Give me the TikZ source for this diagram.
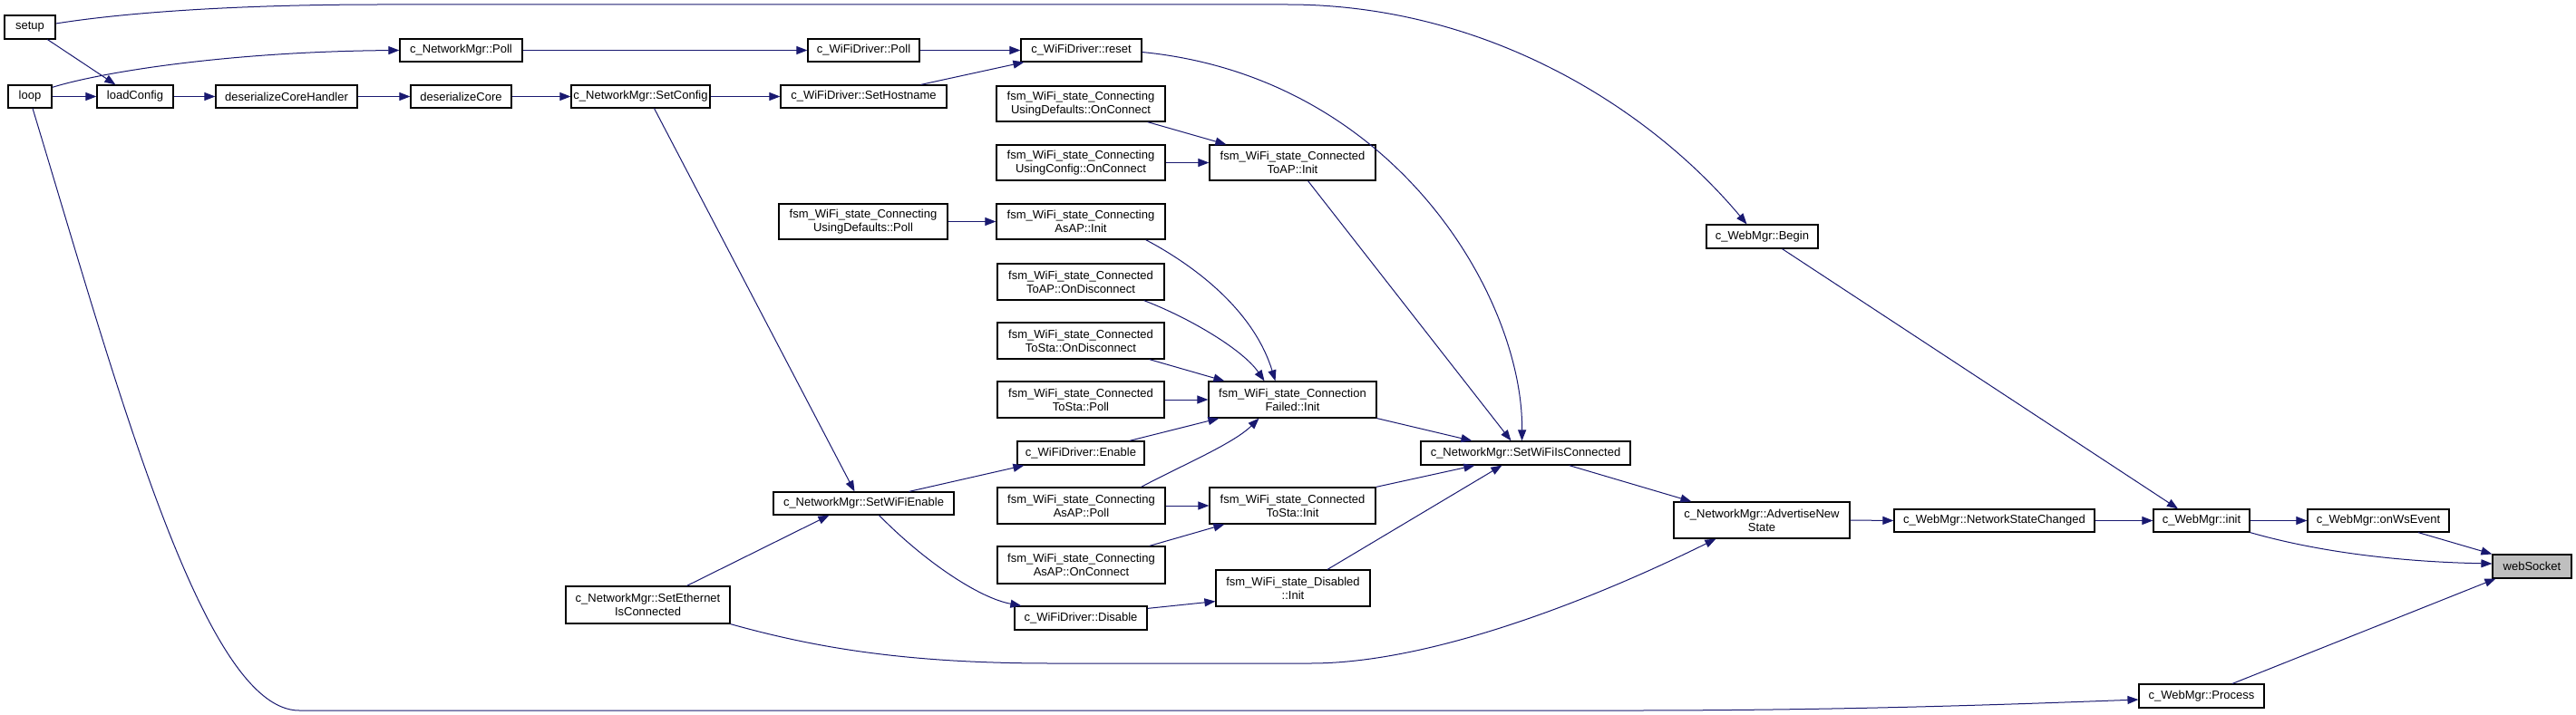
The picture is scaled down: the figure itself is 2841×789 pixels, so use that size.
\documentclass[tikz,border=0pt]{standalone}
\usepackage{fontspec}
\setmainfont{Liberation Sans}
\usetikzlibrary{arrows.meta}
\definecolor{edgeblue}{RGB}{25,25,112}
\newcommand{\mkbox}[7][white]{\node[fn, fill=#1, minimum width={(#5-#3)*1pt}, minimum height={(#6-#4)*1pt}] (#2) at ({(#3+#5)/2},{(#4+#6)/2}) {#7};}
\begin{document}
\begin{tikzpicture}[x=1pt,y=-1pt,
  fn/.style={draw=black, line width=1.2pt, inner sep=0pt, align=center, font=\fontsize{13}{15}\selectfont},
  e/.style={draw=edgeblue, line width=1pt, -{Triangle[length=12pt,width=9pt]}}]
\useasboundingbox[fill=white] (0,0) rectangle (2841,789);
\mkbox{setup}{5}{17}{61}{43}{setup}
\mkbox{loop}{9}{94}{57}{119}{loop}
\mkbox{loadConfig}{107}{94}{191}{119}{loadConfig}
\mkbox{dch}{238}{94}{394}{119}{deserializeCoreHandler}
\mkbox{dc}{453}{94}{564}{119}{deserializeCore}
\mkbox{setcfg}{630}{94}{783}{119}{c\_NetworkMgr::SetConfig}
\mkbox{npoll}{441}{43}{576}{68}{c\_NetworkMgr::Poll}
\mkbox{wdpoll}{891}{43}{1014}{68}{c\_WiFiDriver::Poll}
\mkbox{host}{861}{94}{1044}{119}{c\_WiFiDriver::SetHostname}
\mkbox{reset}{1126}{43}{1259}{68}{c\_WiFiDriver::reset}
\mkbox{udoc}{1099}{95}{1285}{134}{fsm\_WiFi\_state\_Connecting\\UsingDefaults::OnConnect}
\mkbox{ucoc}{1099}{160}{1285}{199}{fsm\_WiFi\_state\_Connecting\\UsingConfig::OnConnect}
\mkbox{toapinit}{1334}{160}{1517}{199}{fsm\_WiFi\_state\_Connected\\ToAP::Init}
\mkbox{udpoll}{859}{225}{1045}{264}{fsm\_WiFi\_state\_Connecting\\UsingDefaults::Poll}
\mkbox{asapinit}{1099}{225}{1285}{264}{fsm\_WiFi\_state\_Connecting\\AsAP::Init}
\mkbox{toapdisc}{1100}{291}{1284}{331}{fsm\_WiFi\_state\_Connected\\ToAP::OnDisconnect}
\mkbox{tostadisc}{1100}{356}{1284}{396}{fsm\_WiFi\_state\_Connected\\ToSta::OnDisconnect}
\mkbox{tostapoll}{1100}{421}{1284}{461}{fsm\_WiFi\_state\_Connected\\ToSta::Poll}
\mkbox{cfinit}{1333}{421}{1518}{461}{fsm\_WiFi\_state\_Connection\\Failed::Init}
\mkbox{enable}{1122}{487}{1262}{513}{c\_WiFiDriver::Enable}
\mkbox{setwific}{1567}{487}{1798}{513}{c\_NetworkMgr::SetWiFiIsConnected}
\mkbox{setwifien}{853}{543}{1052}{568}{c\_NetworkMgr::SetWiFiEnable}
\mkbox{asappoll}{1100}{538}{1285}{578}{fsm\_WiFi\_state\_Connecting\\AsAP::Poll}
\mkbox{tostainit}{1334}{538}{1517}{578}{fsm\_WiFi\_state\_Connected\\ToSta::Init}
\mkbox{asaponc}{1100}{603}{1285}{644}{fsm\_WiFi\_state\_Connecting\\AsAP::OnConnect}
\mkbox{disinit}{1341}{629}{1511}{669}{fsm\_WiFi\_state\_Disabled\\::Init}
\mkbox{disable}{1119}{669}{1265}{695}{c\_WiFiDriver::Disable}
\mkbox{seteth}{624}{647}{805}{688}{c\_NetworkMgr::SetEthernet\\IsConnected}
\mkbox{adv}{1846}{554}{2040}{594}{c\_NetworkMgr::AdvertiseNew\\State}
\mkbox{nsc}{2089}{562}{2310}{587}{c\_WebMgr::NetworkStateChanged}
\mkbox{init}{2375}{562}{2481}{587}{c\_WebMgr::init}
\mkbox{onws}{2545}{562}{2701}{587}{c\_WebMgr::onWsEvent}
\mkbox[black!25]{ws}{2749}{612}{2836}{638}{webSocket}
\mkbox{begin}{1882}{248}{2005}{274}{c\_WebMgr::Begin}
\mkbox{process}{2359}{755}{2497}{781}{c\_WebMgr::Process}
% edges
\draw[e] ([xshift=48pt]setup.south west) -- ([xshift=21pt]loadConfig.north west);
\draw[e] (loop.east) -- (loadConfig.west);
\draw[e] ([yshift=-3pt]loop.north east) .. controls (110,80) and (250,57) .. (npoll.west);
\draw[e] ([yshift=4pt]setup.east) .. controls (150,12) and (280,5) .. (420,5) -- (1420,5) .. controls (1640,5) and (1820,120) .. ([xshift=-17pt]begin.north);
\draw[e] ([xshift=3pt]loop.south) .. controls (130,430) and (225,784) .. (330,784) -- (1800,784) .. controls (2050,784) and (2250,776) .. ([yshift=-4pt]process.west);
\draw[e] (loadConfig.east) -- (dch.west);
\draw[e] (dch.east) -- (dc.west);
\draw[e] (dc.east) -- (setcfg.west);
\draw[e] (setcfg.east) -- (host.west);
\draw[e] ([xshift=15pt]setcfg.south) -- ([xshift=-10pt]setwifien.north);
\draw[e] (npoll.east) -- (wdpoll.west);
\draw[e] (wdpoll.east) -- (reset.west);
\draw[e] ([xshift=-29pt]host.north east) -- ([xshift=4pt]reset.south west);
\draw[e] ([yshift=-2pt]reset.east) .. controls (1540,85) and (1680,330) .. ([xshift=-4pt]setwific.north);
\draw[e] ([xshift=-20pt]udoc.south east) -- ([xshift=19pt]toapinit.north west);
\draw[e] (ucoc.east) -- (toapinit.west);
\draw[e] ([xshift=17pt]toapinit.south) -- ([xshift=-16pt]setwific.north);
\draw[e] (udpoll.east) -- (asapinit.west);
\draw[e] ([xshift=-22pt]asapinit.south east) .. controls (1330,300) and (1385,350) .. ([xshift=-19pt]cfinit.north);
\draw[e] ([xshift=-23pt]toapdisc.south east) .. controls (1310,350) and (1370,385) .. ([xshift=-31pt]cfinit.north);
\draw[e] ([xshift=-17pt]tostadisc.south east) -- ([xshift=18pt]cfinit.north west);
\draw[e] (tostapoll.east) -- (cfinit.west);
\draw[e] ([xshift=-17pt]enable.north east) -- ([xshift=12pt]cfinit.south west);
\draw[e] ([xshift=-27pt]asappoll.north east) .. controls (1300,515) and (1360,490) .. ([xshift=-37pt]cfinit.south);
\draw[e] (cfinit.south east) -- ([xshift=57pt]setwific.north west);
\draw[e] ([xshift=-50pt]setwifien.north east) -- ([xshift=8pt]enable.south west);
\draw[e] ([xshift=17pt]setwifien.south) .. controls (1020,620) and (1080,660) .. ([xshift=8pt]disable.north west);
\draw[e] (asappoll.east) -- (tostainit.west);
\draw[e] ([xshift=-18pt]asaponc.north east) -- ([xshift=17pt]tostainit.south west);
\draw[e] (tostainit.north east) -- ([xshift=60pt]setwific.south west);
\draw[e] ([yshift=-3pt]disable.north east) -- ([yshift=6pt]disinit.south west);
\draw[e] ([xshift=38pt]disinit.north) -- ([xshift=90pt]setwific.south west);
\draw[e] ([xshift=43pt]seteth.north) -- ([xshift=62pt]setwifien.south west);
\draw[e] (seteth.south east) .. controls (900,715) and (1000,732) .. (1160,732) -- (1445,732) .. controls (1580,732) and (1760,660) .. ([xshift=47pt]adv.south west);
\draw[e] ([xshift=-68pt]setwific.south east) -- ([xshift=20pt]adv.north west);
\draw[e] (adv.east) -- (nsc.west);
\draw[e] (nsc.east) -- (init.west);
\draw[e] ([xshift=22pt]begin.south) -- ([xshift=-26pt]init.north);
\draw[e] (init.east) -- (onws.west);
\draw[e] (init.south east) .. controls (2560,610) and (2650,620) .. ([yshift=3pt]ws.west);
\draw[e] ([xshift=44pt]onws.south) -- (ws.north west);
\draw[e] ([xshift=34pt]process.north) -- ([xshift=4pt]ws.south west);
\end{tikzpicture}
\end{document}
